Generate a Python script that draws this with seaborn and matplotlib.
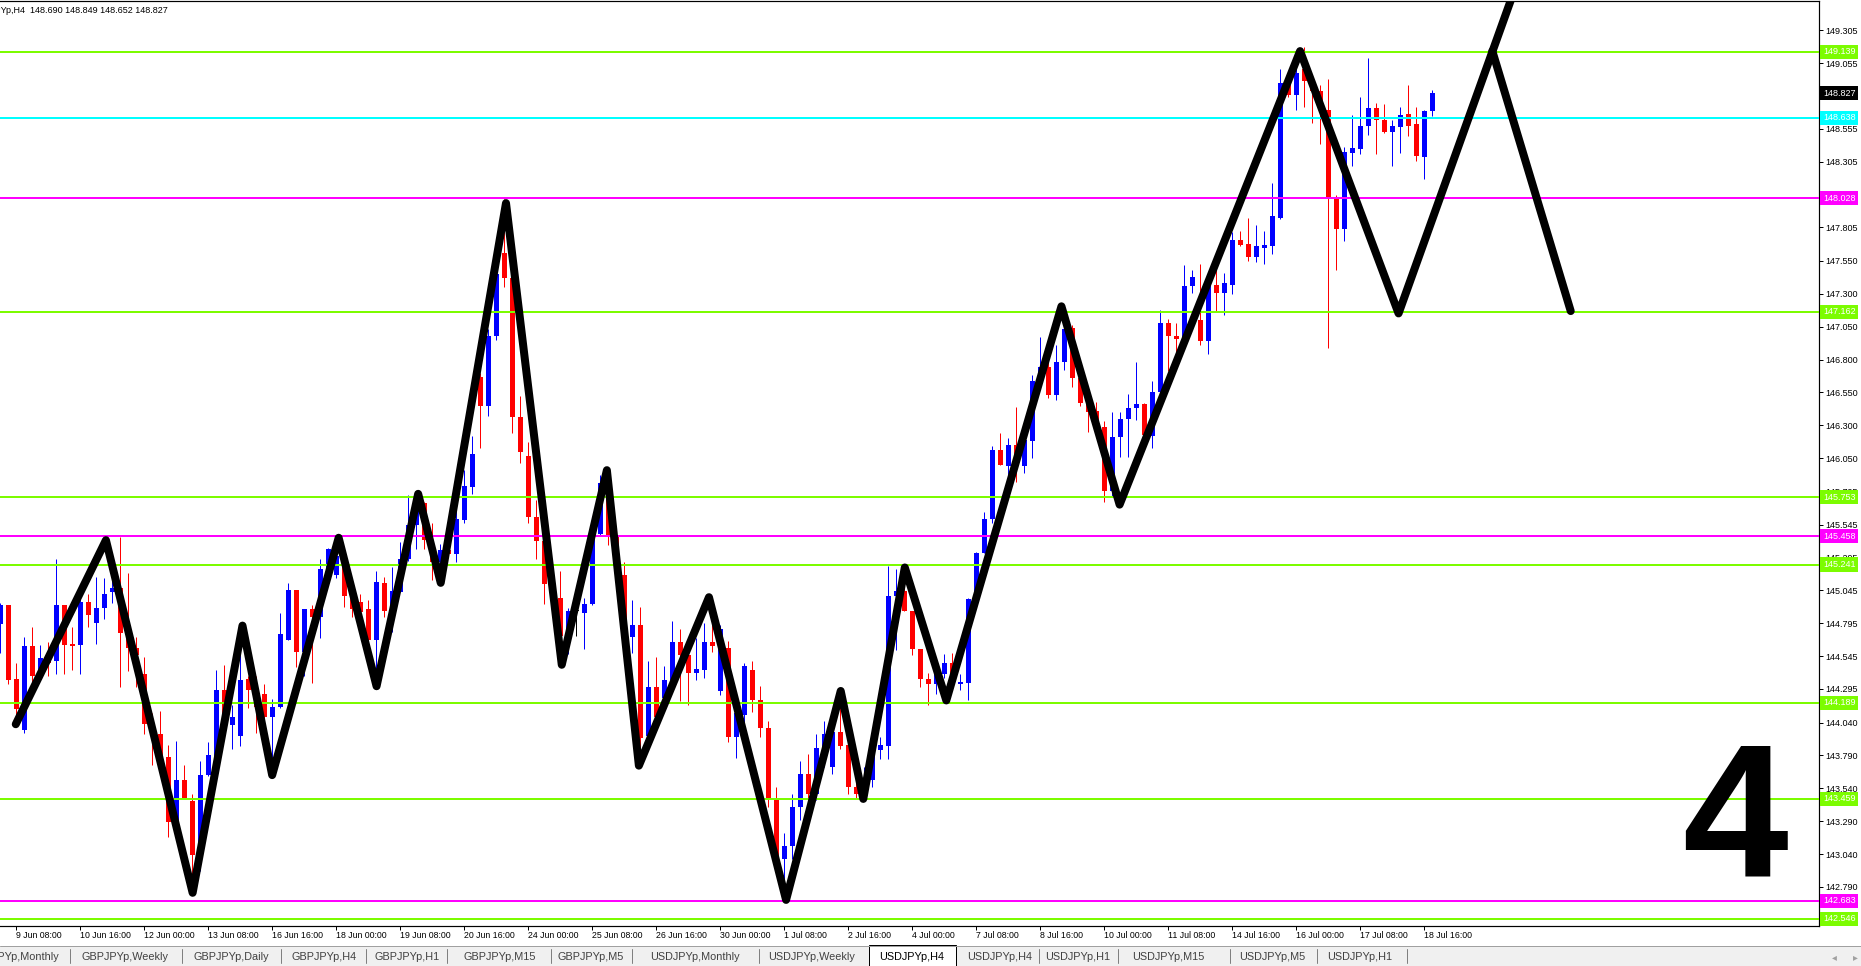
import matplotlib
matplotlib.use("Agg")
import matplotlib.pyplot as plt
import matplotlib.transforms as mtransforms
from matplotlib.patches import Rectangle
from matplotlib.lines import Line2D
import numpy as np
import pandas as pd
import seaborn as sns

# USDJPYp H4 bars, 9 Jun 00:00 .. 18 Jul 20:00
opens = [144.79, 144.93, 144.37, 143.98, 144.62, 144.39, 144.53, 144.51, 144.93, 144.64,
         144.63, 144.96, 144.80, 144.91, 145.03, 145.06, 144.72, 144.61, 144.41, 144.03,
         143.95, 143.78, 143.27, 143.60, 143.44, 143.03, 143.64, 143.78, 144.29, 144.02,
         143.94, 144.37, 144.29, 144.26, 144.08, 144.16, 144.67, 145.05, 144.58, 144.90,
         144.84, 145.21, 145.16, 145.31, 145.00, 144.96, 144.90, 144.67, 145.10, 144.89,
         145.03, 145.28, 145.54, 145.71, 145.30, 145.26, 145.35, 145.32, 145.58, 145.83,
         146.67, 146.45, 146.98, 147.61, 147.42, 146.36, 146.07, 145.60, 145.42, 145.09,
         144.99, 144.70, 144.89, 144.87, 144.94, 145.47, 145.86, 145.45, 145.16, 144.69,
         144.78, 143.94, 144.31, 144.23, 144.36, 144.65, 144.55, 144.42, 144.44, 144.65,
         144.28, 144.61, 143.93, 144.10, 144.44, 144.21, 144.00, 143.45, 143.00, 143.10,
         143.40, 143.65, 143.50, 143.85, 143.70, 143.97, 143.87, 143.55, 143.50, 143.60,
         143.83, 143.86, 145.00, 145.04, 144.89, 144.60, 144.37, 144.33, 144.41, 144.49,
         144.33, 144.34, 145.00, 145.33, 145.59, 146.11, 145.99, 146.15, 145.99, 146.18,
         146.64, 146.74, 146.53, 146.78, 147.04, 146.66, 146.47, 146.41, 146.29, 145.80,
         146.21, 146.35, 146.43, 146.46, 146.22, 146.55, 147.08, 146.98, 146.96, 147.36,
         147.10, 146.94, 147.37, 147.31, 147.37, 147.71, 147.68, 147.58, 147.65, 147.66,
         147.88, 148.90, 148.81, 149.01, 148.92, 148.84, 148.70, 148.04, 147.79, 148.37,
         148.40, 148.58, 148.71, 148.62, 148.53, 148.57, 148.67, 148.59, 148.34, 148.690]
highs = [144.95, 144.93, 144.49, 144.69, 144.77, 144.63, 144.65, 145.28, 144.93, 144.77,
         145.00, 145.02, 145.15, 145.14, 145.15, 145.45, 145.18, 144.69, 144.54, 144.11,
         144.13, 143.87, 143.90, 143.72, 143.50, 143.75, 143.89, 144.44, 144.48, 144.17,
         144.67, 144.39, 144.39, 144.33, 144.22, 144.87, 145.10, 145.05, 144.90, 144.93,
         145.28, 145.37, 145.45, 145.34, 145.05, 145.02, 144.97, 145.19, 145.15, 145.22,
         145.41, 145.77, 145.76, 145.72, 145.56, 145.40, 145.39, 145.66, 145.96, 146.22,
         146.70, 147.03, 147.47, 148.02, 147.42, 146.52, 146.17, 145.73, 145.42, 145.15,
         145.19, 144.91, 144.91, 144.99, 145.52, 145.92, 145.91, 145.47, 145.26, 144.97,
         144.92, 144.51, 144.54, 144.47, 144.81, 144.75, 144.65, 144.68, 144.80, 144.80,
         144.78, 144.66, 144.11, 144.49, 144.51, 144.32, 144.05, 143.55, 143.20, 143.50,
         143.75, 143.80, 143.95, 144.05, 144.10, 144.27, 143.90, 143.65, 143.70, 143.90,
         143.93, 145.23, 145.21, 145.11, 144.89, 144.60, 144.42, 144.41, 144.56, 144.57,
         144.41, 144.99, 145.34, 145.64, 146.14, 146.24, 146.20, 146.44, 146.19, 146.68,
         146.97, 146.80, 146.91, 147.18, 147.06, 146.68, 146.49, 146.48, 146.33, 146.40,
         146.40, 146.54, 146.78, 146.47, 146.64, 147.18, 147.11, 147.08, 147.52, 147.48,
         147.53, 147.42, 147.48, 147.46, 147.77, 147.78, 147.88, 147.82, 147.78, 148.14,
         149.01, 148.93, 149.03, 149.18, 148.93, 148.89, 148.93, 148.05, 148.42, 148.66,
         148.80, 149.09, 148.75, 148.74, 148.62, 148.72, 148.89, 148.72, 148.70, 148.849]
lows = [144.57, 144.33, 144.08, 143.96, 144.35, 144.36, 144.39, 144.41, 144.41, 144.44,
        144.41, 144.77, 144.64, 144.83, 144.95, 144.31, 144.43, 144.31, 143.95, 143.72,
        143.78, 143.17, 143.27, 143.46, 142.80, 142.91, 143.63, 143.76, 144.02, 143.84,
        143.86, 144.15, 143.96, 144.01, 143.64, 144.15, 144.67, 144.46, 144.39, 144.34,
        144.68, 145.12, 145.14, 144.92, 144.84, 144.86, 144.62, 144.32, 144.84, 144.73,
        145.03, 145.27, 145.36, 145.36, 145.12, 145.23, 145.30, 145.26, 145.56, 145.78,
        146.13, 146.37, 146.95, 147.35, 146.24, 146.01, 145.56, 145.28, 144.94, 144.90,
        144.62, 144.56, 144.70, 144.60, 144.93, 145.46, 145.39, 145.10, 144.78, 144.57,
        143.85, 143.94, 144.05, 144.20, 144.33, 144.20, 144.17, 144.36, 144.38, 144.58,
        144.25, 143.89, 143.77, 144.03, 144.12, 143.93, 143.40, 142.95, 142.68, 143.00,
        143.30, 143.40, 143.45, 143.70, 143.65, 143.84, 143.50, 143.46, 143.46, 143.55,
        143.76, 143.76, 144.59, 144.89, 144.55, 144.31, 144.17, 144.26, 144.38, 144.41,
        144.29, 144.21, 145.00, 145.33, 145.56, 146.00, 145.91, 145.87, 145.94, 146.05,
        146.64, 146.51, 146.49, 146.72, 146.59, 146.45, 146.25, 146.26, 145.72, 145.76,
        146.06, 146.06, 146.34, 146.22, 146.13, 146.54, 146.71, 146.77, 146.90, 147.31,
        146.91, 146.84, 147.16, 147.14, 147.30, 147.66, 147.55, 147.54, 147.53, 147.60,
        147.87, 148.80, 148.70, 148.72, 148.60, 148.44, 146.89, 147.48, 147.70, 148.27,
        148.36, 148.51, 148.36, 148.52, 148.27, 148.37, 148.50, 148.31, 148.17, 148.652]
closes = [144.93, 144.36, 144.14, 144.62, 144.39, 144.53, 144.49, 144.93, 144.63, 144.62,
          144.96, 144.86, 144.91, 145.02, 145.06, 144.72, 144.61, 144.55, 144.03, 143.94,
          143.78, 143.28, 143.60, 143.46, 143.03, 143.64, 143.79, 144.29, 144.02, 144.08,
          144.36, 144.29, 144.16, 144.08, 144.16, 144.71, 145.05, 144.58, 144.90, 144.84,
          145.21, 145.36, 145.31, 145.00, 144.90, 144.88, 144.67, 145.11, 144.89, 145.04,
          145.28, 145.54, 145.70, 145.43, 145.26, 145.35, 145.32, 145.59, 145.84, 146.08,
          146.45, 146.98, 147.45, 147.42, 146.36, 146.10, 145.60, 145.42, 145.09, 145.00,
          144.70, 144.89, 144.89, 144.94, 145.44, 145.86, 145.45, 145.20, 144.78, 144.78,
          143.92, 144.31, 144.08, 144.36, 144.65, 144.55, 144.42, 144.45, 144.65, 144.62,
          144.75, 143.93, 144.11, 144.47, 144.21, 144.00, 143.45, 143.00, 143.10, 143.40,
          143.65, 143.50, 143.85, 143.95, 143.97, 143.86, 143.55, 143.50, 143.60, 143.83,
          143.87, 145.00, 145.04, 144.89, 144.60, 144.37, 144.33, 144.41, 144.49, 144.41,
          144.35, 144.98, 145.33, 145.59, 146.11, 146.00, 146.15, 145.99, 146.19, 146.64,
          146.74, 146.53, 146.78, 147.03, 146.66, 146.47, 146.40, 146.29, 145.80, 146.21,
          146.35, 146.43, 146.46, 146.23, 146.55, 147.08, 146.98, 146.96, 147.36, 147.43,
          146.94, 147.36, 147.31, 147.38, 147.71, 147.67, 147.58, 147.66, 147.67, 147.89,
          148.90, 148.81, 148.98, 148.92, 148.84, 148.70, 148.03, 147.79, 148.38, 148.41,
          148.58, 148.71, 148.62, 148.53, 148.58, 148.66, 148.58, 148.35, 148.69, 148.827]

# hand-drawn zigzag (bar index, price)
zz_bars = [1.93, 13.2, 24.04, 30.27, 33.98, 42.29, 47.03, 52.23, 55.05, 63.21, 70.18, 75.82,
           79.82, 88.58, 98.22, 105.05, 107.87, 113.06, 118.25, 132.64, 139.91, 162.47,
           174.78, 189.5]
zz_prices = [144.027, 145.427, 142.745, 144.777, 143.640, 145.445, 144.316, 145.779, 145.102,
             147.990, 144.479, 145.959, 143.712, 144.993, 142.691, 144.280, 143.459, 145.219,
             144.208, 147.205, 145.697, 149.146, 147.151, 149.650]
proj_bars = [186.5, 196.3]
proj_prices = [149.146, 147.169]

green_levels = [149.139, 147.162, 145.753, 145.241, 144.189, 143.459, 142.546]
magenta_levels = [148.028, 145.458, 142.683]
cyan_levels = [148.638]
last_price = 148.827

price_ticks = [149.305, 149.055, 148.805, 148.555, 148.305, 148.055, 147.805, 147.550,
               147.300, 147.050, 146.800, 146.550, 146.300, 146.050, 145.795, 145.545,
               145.295, 145.045, 144.795, 144.545, 144.295, 144.040, 143.790, 143.540,
               143.290, 143.040, 142.790]
date_labels = ["9 Jun 08:00", "10 Jun 16:00", "12 Jun 00:00", "13 Jun 08:00", "16 Jun 16:00",
               "18 Jun 00:00", "19 Jun 08:00", "20 Jun 16:00", "24 Jun 00:00", "25 Jun 08:00",
               "26 Jun 16:00", "30 Jun 00:00", "1 Jul 08:00", "2 Jul 16:00", "4 Jul 00:00",
               "7 Jul 08:00", "8 Jul 16:00", "10 Jul 00:00", "11 Jul 08:00", "14 Jul 16:00",
               "16 Jul 00:00", "17 Jul 08:00", "18 Jul 16:00"]
tabs = ["GBPJPYp,Monthly", "GBPJPYp,Weekly", "GBPJPYp,Daily", "GBPJPYp,H4", "GBPJPYp,H1",
        "GBPJPYp,M15", "GBPJPYp,M5", "USDJPYp,Monthly", "USDJPYp,Weekly", "USDJPYp,H4",
        "USDJPYp,H4", "USDJPYp,H1", "USDJPYp,M15", "USDJPYp,M5", "USDJPYp,H1"]
active_tab = 9

W, H = 1861, 966
PX = 0.72  # one pixel in points at dpi 100

sns.set_style("white")
plt.rcParams['font.family'] = ['Liberation Sans', 'DejaVu Sans']

df = pd.DataFrame({'open': opens, 'high': highs, 'low': lows, 'close': closes})
df['bar'] = np.arange(len(df))
df['color'] = np.where(df.close > df.open, '#0000FF',
                       np.where(df.close < df.open, '#FF0000', '#000000'))

fig = plt.figure(figsize=(W / 100, H / 100), dpi=100)
ax = fig.add_axes([0, 40 / H, 1819 / W, 925 / H])

# candles
ax.vlines(df.bar, df.low, df.high, colors=df.color, lw=PX, zorder=2)
body_lo = np.minimum(df.open, df.close)
body_h = np.maximum((df.close - df.open).abs(), 0.008)
ax.bar(df.bar, body_h, bottom=body_lo, width=0.62, color=df.color, linewidth=0, zorder=2)

# levels
for lvls, col in [(green_levels, '#7CFC00'), (magenta_levels, '#FF00FF'), (cyan_levels, '#00FFFF')]:
    for v in lvls:
        ax.axhline(v, color=col, lw=2 * PX, zorder=3)

# zigzag
sns.lineplot(x=zz_bars, y=zz_prices, sort=False, color='black', lw=8 * PX, ax=ax, zorder=4,
             solid_capstyle='round', solid_joinstyle='round')
sns.lineplot(x=proj_bars, y=proj_prices, sort=False, color='black', lw=8 * PX, ax=ax, zorder=4,
             solid_capstyle='round', solid_joinstyle='round')

ax.set_xlim(-0.04, -0.04 + 1819 / 8)
ax.set_ylim(149.139 - 874 / 131.5, 149.139 + 51 / 131.5)
ax.set_xlabel('')
ax.set_ylabel('')

for s in ['top', 'right', 'bottom']:
    ax.spines[s].set_visible(True)
    ax.spines[s].set_color('black')
    ax.spines[s].set_linewidth(1.2 * PX)
ax.spines['left'].set_visible(False)

ax.yaxis.tick_right()
ax.set_yticks(price_ticks, [f"{v:.3f}" for v in price_ticks])
ax.tick_params(axis='y', direction='out', length=4 * PX, width=PX, pad=2.5 * PX,
               labelsize=6.5, colors='black', right=True, left=False)
ax.set_xticks(2 + 8 * np.arange(len(date_labels)), date_labels)
ax.tick_params(axis='x', direction='out', length=4 * PX, width=PX, pad=1,
               labelsize=6.3, colors='black', bottom=True)
for lbl in ax.get_xticklabels():
    lbl.set_ha('left')

# price tags on the scale
tag_tr = mtransforms.blended_transform_factory(ax.transAxes, ax.transData)
tag_x = 1 + 4 / 1819
for lvls, col in [(green_levels, '#7CFC00'), (magenta_levels, '#FF00FF'), (cyan_levels, '#00FFFF'),
                  ([last_price], '#000000')]:
    for v in lvls:
        ax.text(tag_x, v, f"{v:.3f}", transform=tag_tr, ha='left', va='center', color='white',
                fontsize=6.5, clip_on=False, zorder=10,
                bbox=dict(boxstyle='square,pad=0.3', fc=col, ec='none'))

# header
ax.text(168 / 1819, 1 - 10 / 925, f"USDJPYp,H4  {opens[-1]:.3f} {highs[-1]:.3f} {lows[-1]:.3f} {closes[-1]:.3f}",
        transform=ax.transAxes, ha='right', va='center', fontsize=6.5, color='black', clip_on=True)

# big number
fig.text(1735 / W, 1 - 877 / H, '4', fontsize=137, fontweight='bold', ha='center', va='baseline',
         color='black')

# tab bar
fig.patches.append(Rectangle((0, 0), 1, 20 / H, transform=fig.transFigure, fc='#F0F0F0', ec='none'))
fig.lines.append(Line2D([0, 1], [20 / H, 20 / H], transform=fig.transFigure, color='#A0A0A0', lw=PX))
tab_x = [59, 124.5, 231, 324, 407, 500, 591, 695, 812, 912, 1000, 1078, 1168, 1272, 1360]
sep_x = [70, 182, 281, 366, 447, 551, 632, 759, 1039, 1118, 1230, 1317, 1407]
fig.patches.append(Rectangle((869 / W, 0), 87 / W, 21 / H, transform=fig.transFigure,
                             fc='white', ec='black', lw=PX))
ty = 1 - 957 / H
for i, (name, x) in enumerate(zip(tabs, tab_x)):
    if i == 0:
        fig.text(x / W, ty, name, ha='right', va='center', fontsize=7.8, color='#404040')
    else:
        fig.text(x / W, ty, name, ha='center', va='center', fontsize=7.8,
                 color='black' if i == active_tab else '#404040')
for x in sep_x:
    fig.lines.append(Line2D([x / W, x / W], [3 / H, 17 / H], transform=fig.transFigure,
                            color='#808080', lw=PX))
fig.text(1834 / W, ty, '◂', ha='center', va='center', fontsize=7, color='#A0A0A0',
         family=['DejaVu Sans'])
fig.text(1855 / W, ty, '▸', ha='center', va='center', fontsize=7, color='#A0A0A0',
         family=['DejaVu Sans'])

fig.savefig('out.png', dpi=100, facecolor='white')
